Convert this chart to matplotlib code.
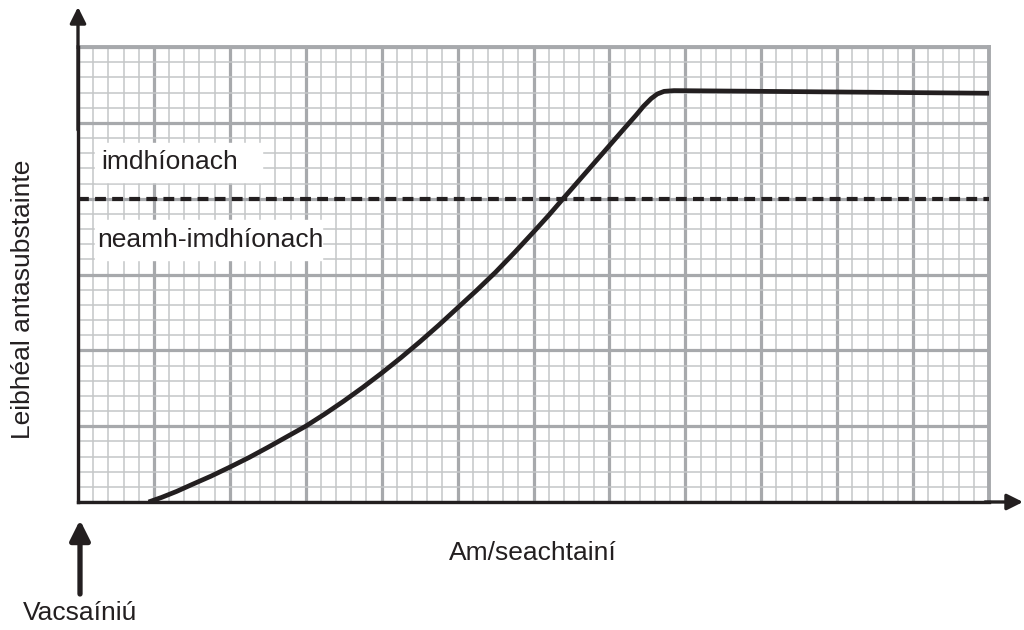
import matplotlib
matplotlib.use('Agg')
import matplotlib.pyplot as plt
from matplotlib.ticker import MultipleLocator

plt.rcParams['font.family'] = ['Liberation Sans', 'DejaVu Sans']

# antibody level curve (x in weeks-squares, y in squares)
weeks = [0.93, 1.1, 1.3, 1.5, 1.75, 2.0, 2.25, 2.5, 2.75, 3.0, 3.25, 3.5, 3.75,
         4.0, 4.25, 4.5, 4.75, 5.0, 5.25, 5.5, 5.75, 6.0, 6.2, 6.39, 7.0, 7.2,
         7.35, 7.45, 7.55, 7.63, 7.72, 7.85, 12.0]
level = [0.0, 0.06, 0.14, 0.23, 0.34, 0.46, 0.585, 0.72, 0.86, 1.0, 1.16, 1.33, 1.51,
         1.70, 1.90, 2.11, 2.33, 2.56, 2.79, 3.03, 3.29, 3.56, 3.78, 4.0, 4.7, 4.93,
         5.1, 5.22, 5.32, 5.38, 5.415, 5.425, 5.39]
threshold = 4.0
zone_labels = ['imdhíonach', 'neamh-imdhíonach']

fig = plt.figure(figsize=(10.24, 6.3), dpi=100)
ax = fig.add_axes([78/1024, 128/630, 911/1024, 455/630])
ax.set_xlim(0, 12)
ax.set_ylim(0, 6)

major_c = '#a7a9ac'
minor_c = '#c4c6c8'
ax.xaxis.set_major_locator(MultipleLocator(1))
ax.yaxis.set_major_locator(MultipleLocator(1))
ax.xaxis.set_minor_locator(MultipleLocator(0.2))
ax.yaxis.set_minor_locator(MultipleLocator(0.2))
ax.grid(which='minor', color=minor_c, lw=1.1, zorder=0)
ax.grid(which='major', color=major_c, lw=2.3, zorder=0)
ax.set_axisbelow(True)
ax.tick_params(which='both', length=0, labelbottom=False, labelleft=False)

for s in ['top', 'right']:
    ax.spines[s].set_color(major_c)
    ax.spines[s].set_linewidth(2.8)
for s in ['left', 'bottom']:
    ax.spines[s].set_color('#231f20')
    ax.spines[s].set_linewidth(2.4)
    ax.spines[s].set_zorder(5)

# white boxes behind the zone labels
ax.add_patch(plt.Rectangle((0.22, 4.22), 2.2, 0.52, color='white', zorder=2))
ax.add_patch(plt.Rectangle((0.22, 3.19), 2.99, 0.53, color='white', zorder=2))
ax.text(0.31, 4.48, zone_labels[0], fontsize=19, va='center', color='#231f20', zorder=3)
ax.text(0.25, 3.45, zone_labels[1], fontsize=19, va='center', color='#231f20', zorder=3)

ax.axhline(threshold, color='#231f20', lw=3.0, dashes=(2.6, 1.5), zorder=3)
ax.plot(weeks, level, color='#231f20', lw=3.4, solid_joinstyle='round',
        solid_capstyle='butt', zorder=4)

# axis arrows (figure pixels)
arrow = dict(arrowstyle='-|>', color='#231f20', lw=2.4, mutation_scale=24, shrinkA=0, shrinkB=0)
ax.annotate('', xy=(78, 623), xytext=(78, 500), xycoords='figure pixels', arrowprops=arrow)
ax.annotate('', xy=(1023, 128), xytext=(985, 128), xycoords='figure pixels', arrowprops=arrow)
arrow2 = dict(arrowstyle='-|>', color='#231f20', lw=3.8, mutation_scale=30, shrinkA=0, shrinkB=0)
ax.annotate('', xy=(80, 110), xytext=(80, 36), xycoords='figure pixels', arrowprops=arrow2)

fig.text(533/1024, 77/630, 'Am/seachtainí', fontsize=19, ha='center', va='center', color='#231f20')
fig.text(23/1024, 331/630, 'Leibhéal antasubstainte', fontsize=19, rotation=90,
         ha='center', va='center', color='#231f20')
fig.text(80/1024, 17/630, 'Vacsaíniú', fontsize=19, ha='center', va='center', color='#231f20')

fig.savefig('out.png', dpi=100)
